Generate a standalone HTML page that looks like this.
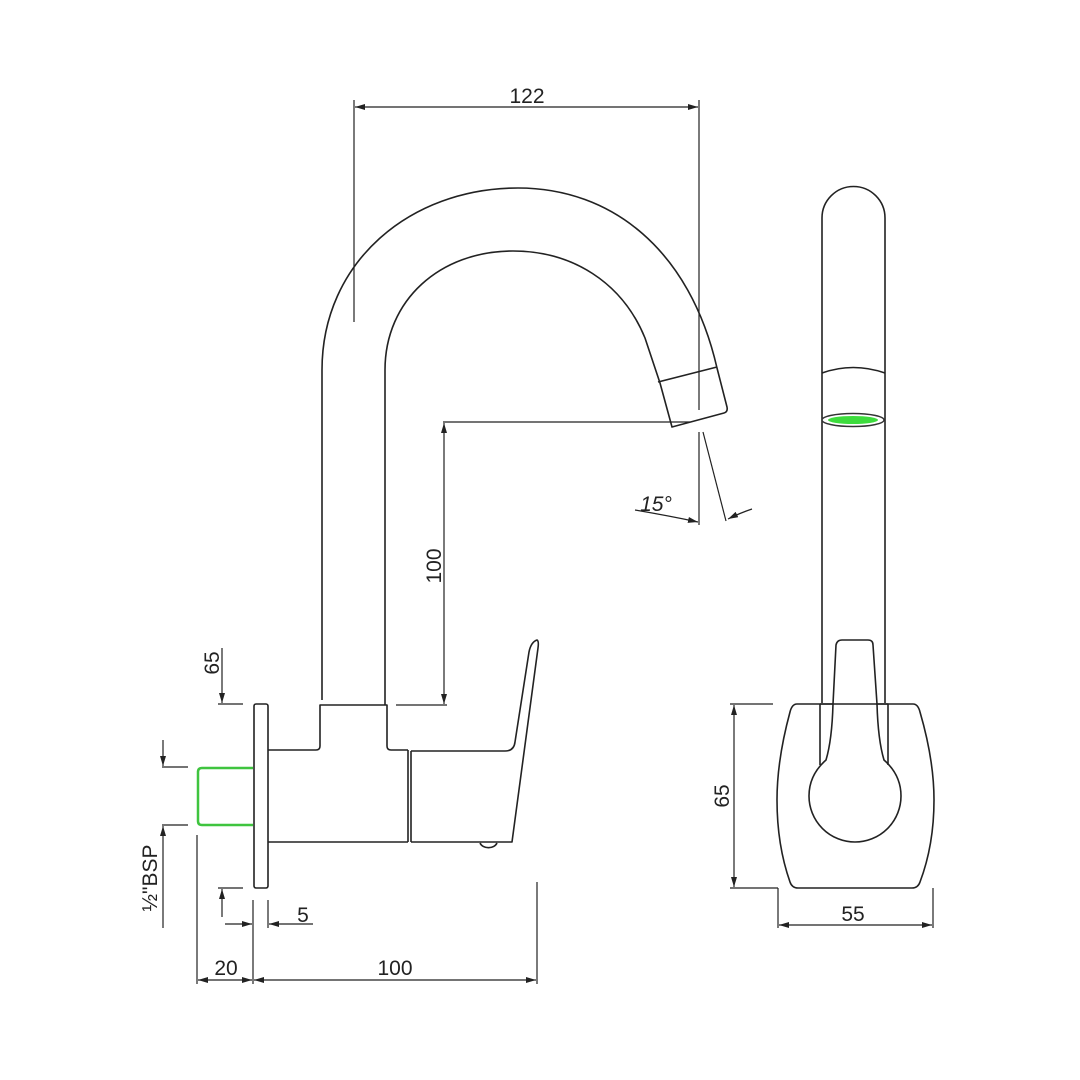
<!DOCTYPE html>
<html><head><meta charset="utf-8"><style>html,body{margin:0;padding:0;background:#fff}svg{display:block}</style></head>
<body>
<svg width="1080" height="1080" viewBox="0 0 1080 1080" xmlns="http://www.w3.org/2000/svg">
<defs>
<marker id="a" viewBox="0 0 10 6" refX="10" refY="3" markerWidth="10" markerHeight="6" orient="auto-start-reverse" markerUnits="userSpaceOnUse"><path d="M0,0 L10,3 L0,6 z" fill="#222"/></marker>
</defs>
<g fill="none" stroke="#222" stroke-width="1.6" stroke-linejoin="round">
<path d="M322,700 L322,370 C322,262 410,188 518,188 C612,188 690,250 717,368 L727,407 Q728,412 724,413 L672,427 L660,383 L645,338 C622,282 572,251 513,251 C440,251 385,300 385,370 L385,705"/>
<line x1="658" y1="382" x2="717" y2="367"/>
<rect x="254" y="704" width="14" height="184" rx="2"/>
<path d="M268,750 L316,750 Q320,750 320,746 L320,705 L387,705 L387,746 Q387,750 391,750 L408,750"/>
<path d="M268,842 L408,842 M408,750 L408,842 M411,751 L411,842"/>
<path d="M411,751 L505,751 Q514,751 515,742 L529,652 Q531,642 537,640 Q539,641 538,648 L512,842 L411,842"/>
<path d="M480,843 A9,7 0 0 0 497,843"/>
<path d="M253,768 L202,768 Q198,768 198,772 L198,821 Q198,825 202,825 L253,825" stroke="#3fc43f" stroke-width="2.5"/>
</g>
<g fill="none" stroke="#222" stroke-width="1.2">
<line x1="354" y1="100" x2="354" y2="322"/>
<line x1="699" y1="100" x2="699" y2="410"/>
<line x1="355" y1="107" x2="698" y2="107" marker-start="url(#a)" marker-end="url(#a)"/>
<line x1="443" y1="422" x2="690" y2="422"/>
<line x1="396" y1="705" x2="447" y2="705"/>
<line x1="444" y1="423" x2="444" y2="704" marker-start="url(#a)" marker-end="url(#a)"/>
<line x1="699" y1="432" x2="699" y2="525"/>
<line x1="703" y1="432" x2="726" y2="521"/>
<path d="M635,510 Q670,516 698,522" marker-end="url(#a)"/>
<path d="M752,509 Q740,513 728,519" marker-end="url(#a)"/>
<line x1="218" y1="704" x2="243" y2="704"/>
<line x1="222" y1="648" x2="222" y2="703" marker-end="url(#a)"/>
<line x1="162" y1="767" x2="188" y2="767"/>
<line x1="163" y1="740" x2="163" y2="766" marker-end="url(#a)"/>
<line x1="162" y1="825" x2="188" y2="825"/>
<line x1="163" y1="928" x2="163" y2="826" marker-end="url(#a)"/>
<line x1="197" y1="835" x2="197" y2="984"/>
<line x1="218" y1="888" x2="243" y2="888"/>
<line x1="222" y1="917" x2="222" y2="889" marker-end="url(#a)"/>
<line x1="253" y1="900" x2="253" y2="984"/>
<line x1="268" y1="900" x2="268" y2="928"/>
<line x1="225" y1="924" x2="252" y2="924" marker-end="url(#a)"/>
<line x1="313" y1="924" x2="269" y2="924" marker-end="url(#a)"/>
<line x1="537" y1="882" x2="537" y2="984"/>
<line x1="198" y1="980" x2="252" y2="980" marker-start="url(#a)" marker-end="url(#a)"/>
<line x1="254" y1="980" x2="536" y2="980" marker-start="url(#a)" marker-end="url(#a)"/>
<line x1="730" y1="704" x2="773" y2="704"/>
<line x1="730" y1="888" x2="778" y2="888"/>
<line x1="778" y1="888" x2="778" y2="928"/>
<line x1="933" y1="888" x2="933" y2="928"/>
<line x1="734" y1="705" x2="734" y2="887" marker-start="url(#a)" marker-end="url(#a)"/>
<line x1="779" y1="925" x2="932" y2="925" marker-start="url(#a)" marker-end="url(#a)"/>
</g>
<g fill="none" stroke="#222" stroke-width="1.6" stroke-linejoin="round">
<path d="M822,703 L822,218 A31.5,31.5 0 0 1 885,218 L885,703"/>
<path d="M822,373 Q853,362 885,373"/>
<path d="M797,704 L820,704 M888,704 L913,704 Q918,704 920,712 Q934,760 934,800 Q934,845 920,882 Q918,888 912,888 L798,888 Q792,888 790,882 Q777,845 777,800 Q777,760 790,712 Q792,704 797,704 Z"/>
<path d="M820,704 L820,765 M833,704 L820,704 M876,704 L888,704 L888,765"/>
<path d="M833,704 L836,645 Q837,640 842,640 L868,640 Q873,640 873,645 L877,704 Q878,740 884,760 Q901,775 901,796 A46,46 0 1 1 809,796 Q809,775 826,760 Q832,740 833,704 Z"/>
</g>
<ellipse cx="853" cy="420" rx="31" ry="6.5" fill="#fff" stroke="#333" stroke-width="1.5"/>
<ellipse cx="853" cy="420" rx="25" ry="4" fill="#3ddc3d"/>
<g font-family="'Liberation Sans', sans-serif" font-size="21" fill="#222">
<text x="527" y="103" text-anchor="middle">122</text>
<text x="0" y="0" transform="translate(441,566) rotate(-90)" text-anchor="middle">100</text>
<text x="656" y="511" text-anchor="middle" font-style="italic">15°</text>
<text x="0" y="0" transform="translate(219,663) rotate(-90)" text-anchor="middle">65</text>
<text x="0" y="0" transform="translate(157,878) rotate(-90)" text-anchor="middle">½"BSP</text>
<text x="303" y="922" text-anchor="middle">5</text>
<text x="226" y="975" text-anchor="middle">20</text>
<text x="395" y="975" text-anchor="middle">100</text>
<text x="0" y="0" transform="translate(729,796) rotate(-90)" text-anchor="middle">65</text>
<text x="853" y="921" text-anchor="middle">55</text>
</g>
</svg>
</body></html>
